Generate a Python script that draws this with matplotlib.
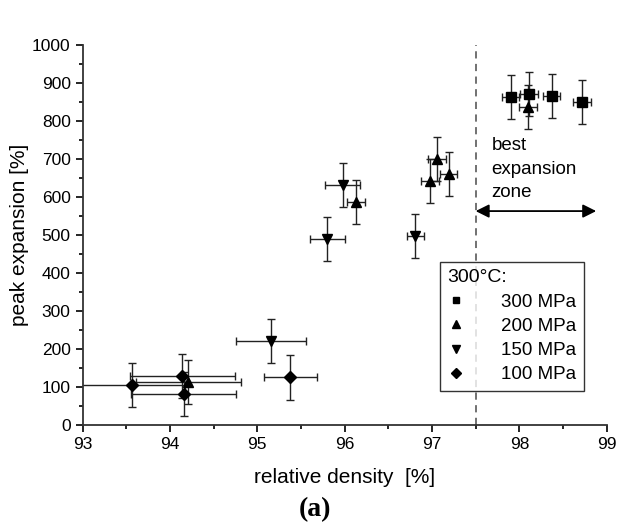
import matplotlib
matplotlib.use("Agg")
import matplotlib.pyplot as plt
from matplotlib.ticker import MultipleLocator

plt.rcParams['font.family'] = ['Liberation Sans', 'DejaVu Sans']

# 300 MPa (squares)
x300 = [97.90, 98.11, 98.37, 98.72]
y300 = [864, 871, 866, 851]
xe300 = [0.1, 0.1, 0.1, 0.1]
ye300 = [58, 58, 58, 58]

# 200 MPa (up triangles)
x200 = [98.10, 96.13, 96.98, 97.19, 97.06, 94.21]
y200 = [838, 588, 643, 660, 699, 114]
xe200 = [0.1, 0.1, 0.1, 0.1, 0.1, 0.6]
ye200 = [58, 58, 58, 58, 58, 58]

# 150 MPa (down triangles)
x150 = [95.98, 95.80, 96.81, 95.16]
y150 = [632, 489, 497, 221]
xe150 = [0.2, 0.2, 0.1, 0.4]
ye150 = [58, 58, 58, 58]

# 100 MPa (diamonds)
x100 = [93.57, 94.14, 94.16, 95.38]
y100 = [105, 129, 82, 125]
xe100 = [0.6, 0.6, 0.6, 0.3]
ye100 = [58, 58, 58, 58]

series_labels = ['300 MPa', '200 MPa', '150 MPa', '100 MPa']
xticks = [93, 94, 95, 96, 97, 98, 99]
yticks = [0, 100, 200, 300, 400, 500, 600, 700, 800, 900, 1000]

fig = plt.figure(figsize=(6.30, 5.24), dpi=100)
ax = fig.add_axes([0.131, 0.189, 0.832, 0.725])

series = [
    (x300, y300, xe300, ye300, 's', 6.5),
    (x200, y200, xe200, ye200, '^', 7.5),
    (x150, y150, xe150, ye150, 'v', 7.5),
    (x100, y100, xe100, ye100, 'D', 6.5),
]
handles = []
for (xs, ys, xe, ye, m, ms), lab in zip(series, series_labels):
    h = ax.errorbar(xs, ys, xerr=xe, yerr=ye, fmt=m, color='black', ms=ms,
                    ecolor='#222222', elinewidth=1.0, capsize=3, capthick=1.0,
                    label=lab)
    handles.append(h)

ax.set_xlim(93, 99)
ax.set_ylim(0, 1000)
ax.set_xticks(xticks)
ax.set_yticks(yticks)
ax.xaxis.set_minor_locator(MultipleLocator(0.5))
ax.yaxis.set_minor_locator(MultipleLocator(50))
ax.tick_params(which='major', direction='out', length=5, width=1.2, labelsize=12.5, colors='black')
ax.tick_params(which='minor', direction='out', length=3, width=1.2)
for s in ['top', 'right']:
    ax.spines[s].set_visible(False)
for s in ['left', 'bottom']:
    ax.spines[s].set_linewidth(1.3)
    ax.spines[s].set_color('#333333')

ax.set_xlabel('relative density  [%]', fontsize=15, labelpad=12)
ax.set_ylabel('peak expansion [%]', fontsize=15, labelpad=2)

ax.axvline(97.5, color='#666666', linestyle=(0, (4, 3)), linewidth=1.3, zorder=0)
ax.annotate('', xy=(97.5, 563), xytext=(98.88, 563),
            arrowprops=dict(arrowstyle='<|-|>', color='black', lw=1.3,
                            mutation_scale=20, shrinkA=0, shrinkB=0))
ax.text(97.68, 757, 'best\nexpansion\nzone', fontsize=13.5, va='top', ha='left',
        linespacing=1.5)

leg = ax.legend(handles=[h[0] for h in handles], labels=series_labels,
                title='300°C:', loc='lower right', bbox_to_anchor=(0.975, 0.065),
                frameon=True, fancybox=False, edgecolor='black', fontsize=13.5,
                title_fontsize=14, handlelength=1.0, handletextpad=1.9,
                borderpad=0.4, labelspacing=0.38, markerscale=0.75)
leg.get_frame().set_linewidth(1.0)
leg._legend_box.align = 'left'

fig.text(0.5, 0.004, '(a)', ha='center', va='bottom', fontsize=20,
         fontweight='bold', family='Liberation Serif')

fig.savefig('out.png', dpi=100)
